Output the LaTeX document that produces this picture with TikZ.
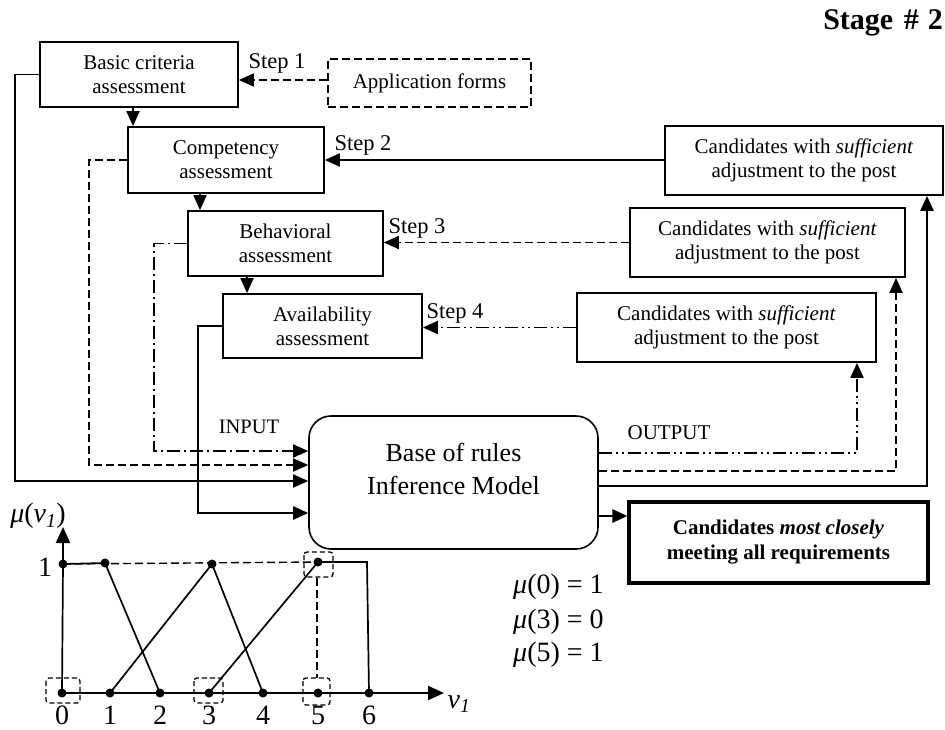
\documentclass[tikz,border=0pt]{standalone}
\usepackage{fontspec}
\setmainfont{Liberation Serif}
\usetikzlibrary{arrows.meta,calc}
\tikzset{
  box/.style={draw, line width=1.7pt, align=center, inner sep=0pt, font=\fontsize{21}{24}\selectfont},
  arr/.style={-{Triangle[length=15pt,width=13pt]}},
  dashpat/.style={dash pattern=on 8pt off 4pt},
  dashdot/.style={dash pattern=on 13pt off 4pt on 2pt off 4pt},
  dashdotdot/.style={dash pattern=on 13pt off 4pt on 2pt off 4pt on 2pt off 4pt},
  lbl/.style={inner sep=0pt, font=\fontsize{22.5}{26}\selectfont},
  numlbl/.style={inner sep=0pt, font=\fontsize{28}{32}\selectfont},
  gdot/.style={circle, fill, inner sep=0pt, minimum size=9pt},
  sel/.style={draw, dash pattern=on 5pt off 3pt, rounded corners=3pt, line width=1.3pt},
  conn/.style={line width=1.8pt},
  thickconn/.style={line width=2.6pt},
}
\begin{document}
\begin{tikzpicture}[x=1pt,y=-1pt]
\useasboundingbox (0,0) rectangle (945,729);

% ---- boxes ----
\node[box, minimum width=198pt, minimum height=65pt] (basic) at (139,74.5) {Basic criteria\\assessment};
\node[box, dashpat, minimum width=203pt, minimum height=48pt] (app) at (429.5,83) {Application forms};
\node[box, minimum width=196pt, minimum height=66pt] (comp) at (226,160) {Competency\\assessment};
\node[box, minimum width=278pt, minimum height=69pt] (cand1) at (804,160.5) {Candidates with \textit{sufficient}\\adjustment to the post};
\node[box, minimum width=195pt, minimum height=65pt] (behav) at (285.5,243.5) {Behavioral\\assessment};
\node[box, minimum width=275pt, minimum height=69pt] (cand2) at (767.5,242.5) {Candidates with \textit{sufficient}\\adjustment to the post};
\node[box, minimum width=199pt, minimum height=64pt] (avail) at (322.5,326) {Availability\\assessment};
\node[box, minimum width=299pt, minimum height=69pt] (cand3) at (726.5,327.5) {Candidates with \textit{sufficient}\\adjustment to the post};
\node[draw, line width=1.6pt, rounded corners=22pt, minimum width=289pt, minimum height=133pt, inner sep=0pt] (base) at (453.5,482.5) {};
\node[align=center, inner sep=0pt, font=\fontsize{26}{33}\selectfont] (basetext) at (453.5,468.5) {Base of rules\\Inference Model};
\node[box, line width=3.2pt, minimum width=299pt, minimum height=81pt, font=\fontsize{21}{25}\selectfont\bfseries] (final) at (778.5,542.5) {Candidates \textit{most closely}\\meeting all requirements};

% ---- labels ----
\node[lbl] (st1) at (277,63) {Step 1};
\node[lbl] (st2) at (363,145) {Step 2};
\node[lbl] (st3) at (417,228) {Step 3};
\node[lbl] (st4) at (455,313) {Step 4};
\node[lbl, font=\fontsize{20.5}{24}\selectfont] (inp) at (249,427) {INPUT};
\node[lbl, font=\fontsize{21}{24}\selectfont] (outp) at (669,433) {OUTPUT};
\node[inner sep=0pt, anchor=east, font=\fontsize{30}{34}\selectfont\bfseries] (stage) at (943,23) {Stage\hspace{0.35em}\#\hspace{0.3em}2};

% ---- helper coordinates ----
\coordinate (xa) at (133,0);
\coordinate (xb) at (200,0);
\coordinate (xc) at (247,0);
\coordinate (ys1) at (0,80);
\coordinate (ya) at (0,481);
\coordinate (yb) at (0,465);
\coordinate (yc) at (0,451);
\coordinate (yd) at (0,513);
\coordinate (ye) at (0,453);
\coordinate (yf) at (0,471);
\coordinate (yg) at (0,486);
\coordinate (yh) at (0,516);
\coordinate (xe) at (857,0);
\coordinate (xf) at (896,0);
\coordinate (xg) at (927,0);

% ---- step arrows ----
\draw[conn, dashpat, arr] (app.west |- ys1) -- (basic.east |- ys1);
\draw[thickconn, arr] (cand1.west |- comp.east) -- (comp.east);
\draw[conn, dashpat, arr] (cand2.west) -- (behav.east |- cand2.west);
\draw[conn, dashdotdot, arr] (cand3.west) -- (avail.east |- cand3.west);

% ---- cascade arrows ----
\draw[conn, arr] (basic.south -| xa) -- (comp.north -| xa);
\draw[conn, arr] (comp.south -| xb) -- (behav.north -| xb);
\draw[conn, arr] (behav.south -| xc) -- (avail.north -| xc);

% ---- inputs ----
\draw[conn, arr] (basic.west) -- ++(-24,0) |- (base.west |- ya);
\draw[conn, dashpat, arr] (comp.west) -- ++(-38,0) |- (base.west |- yb);
\draw[conn, dashdot, arr] (behav.west) -- ++(-33,0) |- (base.west |- yc);
\draw[thickconn, arr] (avail.west) -- ++(-24,0) |- (base.west |- yd);

% ---- outputs ----
\draw[conn, dashdotdot, arr] (base.east |- ye) -| (cand3.south -| xe);
\draw[conn, dashpat, arr] (base.east |- yf) -| (cand2.south -| xf);
\draw[thickconn, arr] (base.east |- yg) -| (cand1.south -| xg);
\draw[thickconn, arr] (base.east |- yh) -- (final.west |- yh);

% ---- membership graph ----
\coordinate (g0) at (62,693);
\coordinate (g1) at (110,693);
\coordinate (g2) at (160,693);
\coordinate (g3) at (209,693);
\coordinate (g4) at (263,693);
\coordinate (g5) at (318,693);
\coordinate (g6) at (369,693);
\coordinate (t0) at (63,564);
\coordinate (t1) at (105,563);
\coordinate (t3) at (212,564);
\coordinate (t5) at (318,562);
\coordinate (t6) at (367,562);
\coordinate (xend) at (444,693);
\coordinate (yend) at (63,527);

\draw[line width=2.2pt, -{Triangle[length=16pt,width=14pt]}] (g0) -- (xend);
\draw[line width=2.2pt, -{Triangle[length=16pt,width=14pt]}] (t0) -- (yend);
\draw[line width=1.7pt] (g0) -- (t0);
\draw[line width=1.7pt] (t0) -- (t1) -- (g2);
\draw[line width=1.7pt] (g1) -- (t3) -- (g4);
\draw[line width=1.7pt] (g3) -- (t5) -- (t6) -- (g6);
\draw[line width=1.4pt, dashpat] (t0) -- (t5);
\draw[line width=1.4pt, dashpat] (317,578) -- (317,678);

\draw[sel] (46,678) rectangle (80,703);
\draw[sel] (194,678) rectangle (223,703);
\draw[sel] (303,678) rectangle (330,705);
\draw[sel] (304,552) rectangle (333,577);

\foreach \p in {g0,g1,g2,g3,g4,g5,g6,t0,t1,t3,t5}
  \node[gdot] at (\p) {};

\foreach \x/\n in {62/0,110/1,160/2,209/3,263/4,318/5,369/6}
  \node[numlbl] at (\x,715) {\n};
\node[numlbl] (one) at (45,567) {1};
\node[numlbl, anchor=center] (mulab) at (38,516) {{\itshape μ}({\itshape v}\textsubscript{\itshape 1})};
\node[numlbl] (vlab) at (459,704) {{\itshape v}\textsubscript{\itshape 1}};

\node[numlbl, anchor=west] (m0) at (513,587) {{\itshape μ}(0) = 1};
\node[numlbl, anchor=west] (m3) at (513,622) {{\itshape μ}(3) = 0};
\node[numlbl, anchor=west] (m5) at (513,655) {{\itshape μ}(5) = 1};
\end{tikzpicture}
\end{document}
